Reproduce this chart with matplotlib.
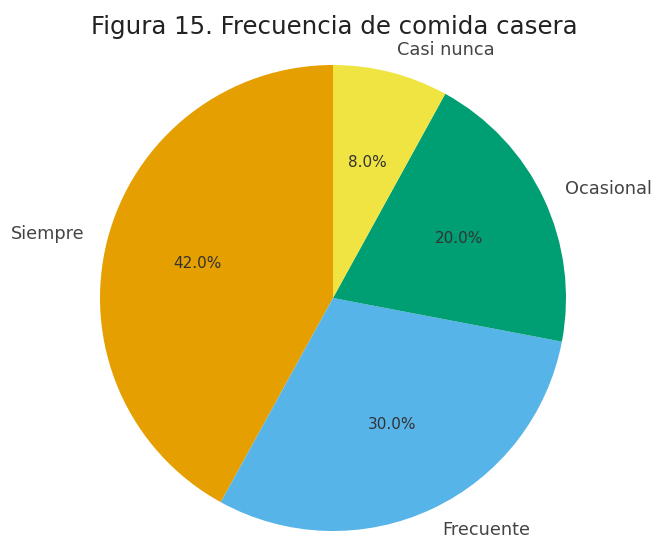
import matplotlib.pyplot as plt

# Data
labels = ['Siempre', 'Frecuente', 'Ocasional', 'Casi nunca']
values = [42, 30, 20, 8]
colors = ['#E69F00', '#56B4E9', '#009E73', '#F0E442']

fig = plt.figure(figsize=(6.57, 5.37), dpi=100)
ax = fig.add_axes([100 / 657, 6 / 537, 466 / 657, 466 / 537])

wedges, texts, autotexts = ax.pie(values, labels=labels, colors=colors,
                                  autopct='%1.1f%%', startangle=90,
                                  textprops={'fontsize': 12.8, 'color': '#444444'})
for t in autotexts:
    t.set_fontsize(11)
    t.set_color('#333333')
ax.set_aspect('equal')
ax.set_xlim(-1, 1)
ax.set_ylim(-1, 1)

fig.text(334 / 657, 1 - 27 / 537, 'Figura 15. Frecuencia de comida casera',
         ha='center', va='center', fontsize=17.6, color='#222222')

fig.savefig('out.png', dpi=100)
